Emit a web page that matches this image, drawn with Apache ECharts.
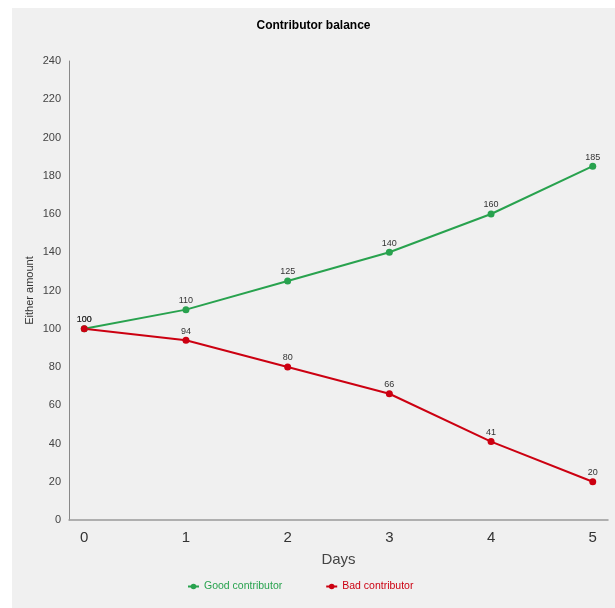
<!DOCTYPE html>
<html><head><meta charset="utf-8">
<script src="https://cdn.jsdelivr.net/npm/echarts@6/dist/echarts.min.js"></script>
<style>
html,body{margin:0;padding:0;background:#fff;}
#c{position:absolute;left:12px;top:8px;width:603px;height:600px;background:#f0f0f0;}
</style></head>
<body><div id="c"></div>
<script>
var days = [0, 1, 2, 3, 4, 5];
var goodValues = [100, 110, 125, 140, 160, 185];
var badValues = [100, 94, 80, 66, 41, 20];
var seriesNames = ['Good contributor', 'Bad contributor'];
var colors = ['#28a24e', '#cc0011'];

var chart = echarts.init(document.getElementById('c'));
function pairs(vals){ return days.map(function(d,i){ return [d, vals[i]]; }); }
function mk(name, vals, color){
  return {
    name: name, type: 'line', data: pairs(vals),
    symbol: 'circle', symbolSize: 7,
    lineStyle: {width: 2, color: color},
    itemStyle: {color: color},
    label: {show: true, position: 'top', distance: 1, fontSize: 9, color: '#333', fontFamily: 'Liberation Sans'}
  };
}
chart.setOption({
  backgroundColor: '#f0f0f0',
  animation: false,
  textStyle: {fontFamily: 'Liberation Sans'},
  title: {text: 'Contributor balance', left: 'center', top: 7,
    textStyle: {fontSize: 12, fontWeight: 'bold', color: '#000', fontFamily: 'Liberation Sans'}},
  legend: {
    left: 170, top: 568, itemGap: 43, itemWidth: 11, itemHeight: 7,
    data: [
      {name: seriesNames[0], textStyle: {color: colors[0]}},
      {name: seriesNames[1], textStyle: {color: colors[1]}}
    ],
    textStyle: {fontSize: 10.5, fontFamily: 'Liberation Sans'}
  },
  grid: {left: 57, right: 7, top: 53, bottom: 88, containLabel: false},
  xAxis: {
    type: 'value', min: -0.15, max: 5.15,
    name: 'Days', nameLocation: 'middle', nameGap: 32,
    nameTextStyle: {fontSize: 15, color: '#444'},
    axisLine: {show: true, onZero: false, lineStyle: {color: '#999', width: 1.5}},
    axisTick: {show: false},
    splitLine: {show: false},
    axisLabel: {customValues: days, fontSize: 15, color: '#333', margin: 10}
  },
  yAxis: {
    type: 'value', min: 0, max: 240, interval: 20,
    name: 'Either amount', nameLocation: 'middle', nameGap: 34, nameMoveOverlap: false,
    nameTextStyle: {fontSize: 11, color: '#333'},
    axisLine: {show: true, onZero: false, lineStyle: {color: '#888'}},
    axisTick: {show: false},
    splitLine: {show: false},
    axisLabel: {fontSize: 11, color: '#444', margin: 8}
  },
  series: [mk(seriesNames[0], goodValues, colors[0]), mk(seriesNames[1], badValues, colors[1])]
});
</script></body></html>
